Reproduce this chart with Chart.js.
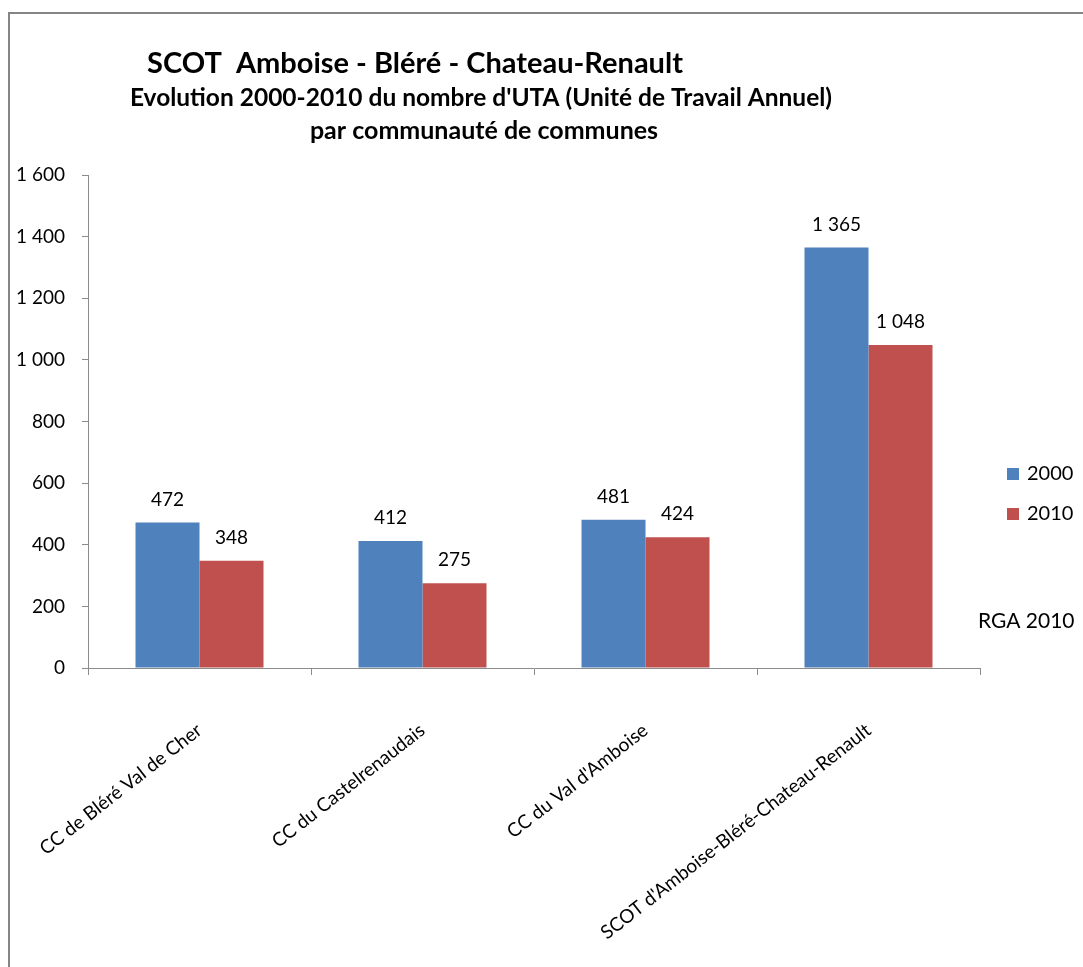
<!DOCTYPE html>
<html lang="fr">
<head>
<meta charset="utf-8">
<title>SCOT Amboise - Bléré - Chateau-Renault</title>
<script src="https://cdn.jsdelivr.net/npm/chart.js@4.4.0/dist/chart.umd.min.js"></script>
<style>
    html, body { margin: 0; padding: 0; background: #fff; }
    #wrap { position: relative; width: 1083px; height: 967px; }
</style>
</head>
<body>
<div id="wrap"><canvas id="utaChart" width="1083" height="967"></canvas></div>
<script>
// Données
const communautes = [
    'CC de Bléré Val de Cher',
    'CC du Castelrenaudais',
    "CC du Val d'Amboise",
    "SCOT d'Amboise-Bléré-Chateau-Renault"
];
const uta2000 = [472, 412, 481, 1365];
const uta2010 = [348, 275, 424, 1048];
const annees = ['2000', '2010'];
const graduations = [0, 200, 400, 600, 800, 1000, 1200, 1400, 1600];

const titres = [
    'SCOT  Amboise - Bléré - Chateau-Renault',
    "Evolution 2000-2010 du nombre d'UTA (Unité de Travail Annuel)",
    'par communauté de communes'
];
const source = 'RGA 2010';

const couleurs = ['#4F81BD', '#C0504D'];
const police = 'Lato, "Open Sans", sans-serif';

// format français : espace pour les milliers
function formatNombre(v) {
    return String(v).replace(/\B(?=(\d{3})+(?!\d))/g, ' ');
}

// Cadre, titres, légende, étiquettes de données
const decor = {
    id: 'decor',
    afterDraw(chart) {
        const ctx = chart.ctx;
        ctx.save();

        // cadre
        ctx.strokeStyle = '#858585';
        ctx.lineWidth = 2;
        ctx.strokeRect(9, 13, 1200, 1200);

        // titres
        ctx.fillStyle = '#000';
        ctx.textBaseline = 'alphabetic';
        ctx.textAlign = 'center';
        ctx.font = 'bold 29px ' + police;
        ctx.fillText(titres[0], 415, 73);
        ctx.font = 'bold 24.5px ' + police;
        ctx.fillText(titres[1], 481, 106);
        ctx.font = 'bold 25px ' + police;
        ctx.fillText(titres[2], 484, 139);

        // valeurs au-dessus des barres
        ctx.font = '19px ' + police;
        ctx.textBaseline = 'middle';
        chart.data.datasets.forEach((ds, i) => {
            const meta = chart.getDatasetMeta(i);
            meta.data.forEach((bar, j) => {
                ctx.fillText(formatNombre(ds.data[j]), bar.x, bar.y - 23);
            });
        });

        // légende
        ctx.textAlign = 'left';
        ctx.font = '20px ' + police;
        chart.data.datasets.forEach((ds, i) => {
            const y = 474 + i * 40;
            ctx.fillStyle = ds.backgroundColor;
            ctx.fillRect(1007, y - 6, 12, 12);
            ctx.fillStyle = '#000';
            ctx.fillText(ds.label, 1027, y);
        });

        // source
        ctx.font = '21px ' + police;
        ctx.fillText(source, 978, 621);

        ctx.restore();
    }
};

const ctx = document.getElementById('utaChart').getContext('2d');
new Chart(ctx, {
    type: 'bar',
    data: {
        labels: communautes,
        datasets: [
            { label: annees[0], data: uta2000, backgroundColor: couleurs[0] },
            { label: annees[1], data: uta2010, backgroundColor: couleurs[1] }
        ]
    },
    options: {
        responsive: false,
        animation: false,
        layout: { padding: { top: 175, right: 103, left: 0, bottom: 0 } },
        datasets: {
            bar: { categoryPercentage: 0.574, barPercentage: 1.0 }
        },
        plugins: {
            legend: { display: false },
            title: { display: false },
            tooltip: { enabled: false }
        },
        scales: {
            x: {
                grid: {
                    display: true,
                    drawOnChartArea: false,
                    drawTicks: true,
                    tickLength: 7,
                    color: '#8c8c8c'
                },
                border: { color: '#8c8c8c', width: 1 },
                ticks: {
                    color: '#000',
                    font: { family: police, size: 19 },
                    minRotation: 38,
                    maxRotation: 38,
                    padding: 44
                },
                afterFit(scale) {
                    scale.height = 299;
                    scale.paddingLeft = 0;
                    scale.paddingRight = 0;
                }
            },
            y: {
                min: 0,
                max: 1600,
                afterBuildTicks(scale) {
                    scale.ticks = graduations.map(v => ({ value: v }));
                },
                grid: {
                    display: true,
                    drawOnChartArea: false,
                    drawTicks: true,
                    tickLength: 6,
                    color: '#8c8c8c'
                },
                border: { color: '#8c8c8c', width: 1 },
                ticks: {
                    color: '#000',
                    font: { family: police, size: 19 },
                    padding: 17,
                    callback: v => formatNombre(v)
                },
                afterFit(scale) {
                    scale.width = 88;
                    scale.paddingTop = 0;
                    scale.paddingBottom = 0;
                }
            }
        }
    },
    plugins: [decor]
});
</script>
</body>
</html>
